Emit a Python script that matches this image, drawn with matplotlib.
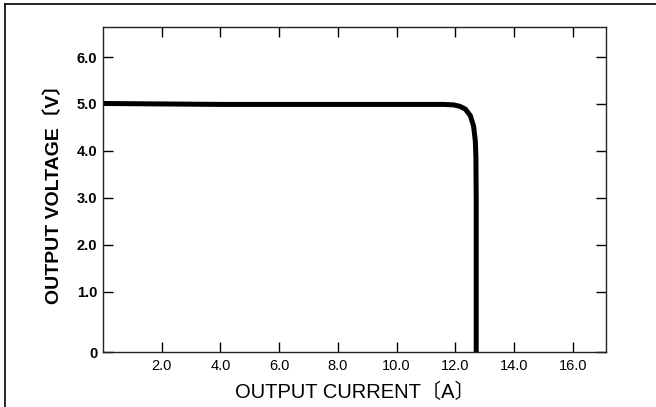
import numpy as np
import matplotlib
matplotlib.use("Agg")
import matplotlib.pyplot as plt
from matplotlib.lines import Line2D

# curve
current = [0.0, 2.0, 4.0, 6.0, 8.0, 10.0, 11.0, 11.6, 11.94, 12.15, 12.34,
           12.51, 12.62, 12.68, 12.70, 12.71, 12.71]
voltage = [5.01, 5.00, 4.99, 4.99, 4.99, 4.99, 4.99, 4.99, 4.98, 4.95, 4.89,
           4.75, 4.53, 4.21, 3.86, 2.93, 0.0]

x_ticks = [2, 4, 6, 8, 10, 12, 14, 16]
x_labels = ["2.0", "4.0", "6.0", "8.0", "10.0", "12.0", "14.0", "16.0"]
y_ticks = [0, 1, 2, 3, 4, 5, 6]
y_labels = ["0", "1.0", "2.0", "3.0", "4.0", "5.0", "6.0"]

# the axis is stretched below 1.0 V (broken scale in the original)
GAP = 1.285


def fwd(y):
    y = np.asarray(y, dtype=float)
    return np.where(y < 1, 1 - GAP * (1 - y), y)


def inv(t):
    t = np.asarray(t, dtype=float)
    return np.where(t < 1, 1 - (1 - t) / GAP, t)


plt.rcParams['font.family'] = ['Liberation Sans', 'Noto Sans CJK JP', 'DejaVu Sans']

fig = plt.figure(figsize=(6.56, 4.07), dpi=100)
ax = fig.add_axes([103 / 656, 55 / 407, (605.7 - 103) / 656, (352 - 27.3) / 407])

ax.plot(current, voltage, color='black', lw=3.6, solid_capstyle='butt',
        solid_joinstyle='round')

ax.set_yscale('function', functions=(fwd, inv))
ax.set_xlim(0, 17.12)
ax.set_ylim(0, 6.633)

ax.set_xticks(x_ticks)
ax.set_xticklabels(x_labels, fontsize=10.5)
ax.set_yticks(y_ticks)
ax.set_yticklabels(y_labels, fontsize=10.5, fontweight='bold')

ax.tick_params(axis='x', direction='in', length=7, width=1, top=True, pad=5)
ax.tick_params(axis='y', direction='in', length=7, width=1, right=True, pad=4)
ax.tick_params(axis='y', which='minor', left=False, right=False)

for s in ax.spines.values():
    s.set_linewidth(1.0)
    s.set_color('#222222')

ax.set_xlabel("OUTPUT CURRENT〔A〕", fontsize=14.5, labelpad=7)
ax.set_ylabel("OUTPUT VOLTAGE〔V〕", fontsize=14, fontweight='bold', labelpad=10)

# page frame from the scan
fig.add_artist(Line2D([5 / 656, 1], [1 - 3.5 / 407, 1 - 3.5 / 407],
                      transform=fig.transFigure, color='black', lw=1.2))
fig.add_artist(Line2D([5 / 656, 5 / 656], [0, 1 - 3.5 / 407],
                      transform=fig.transFigure, color='black', lw=1.2))

fig.savefig("out.png", dpi=100)
